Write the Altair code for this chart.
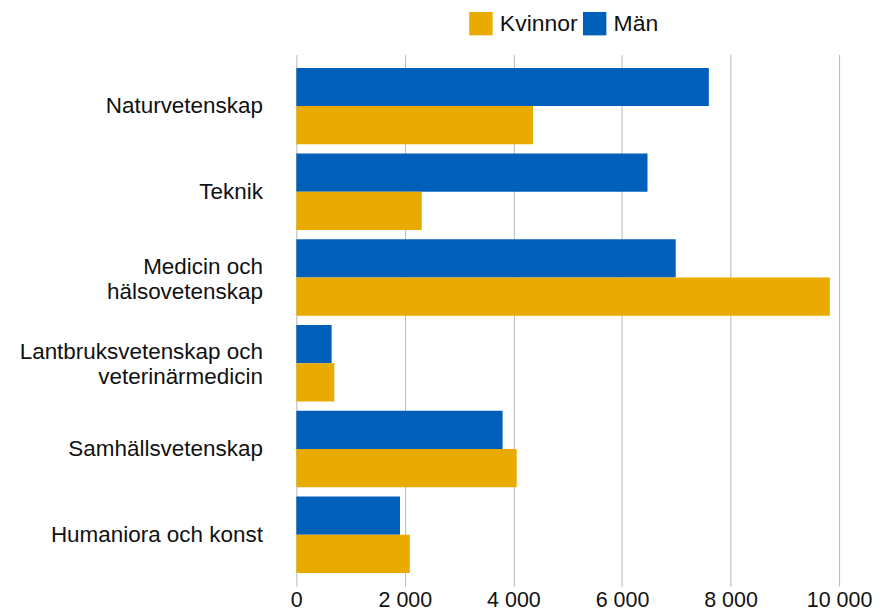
import altair as alt
import pandas as pd

categories = [
    "Naturvetenskap",
    "Teknik",
    "Medicin och\nhälsovetenskap",
    "Lantbruksvetenskap och\nveterinärmedicin",
    "Samhällsvetenskap",
    "Humaniora och konst",
]
man = [7600, 6470, 6990, 650, 3800, 1910]
kvinnor = [4360, 2310, 9830, 700, 4060, 2090]
series = ["Kvinnor", "Män"]
colors = ["#EAAB00", "#0060B9"]
x_ticks = [0, 2000, 4000, 6000, 8000, 10000]

rows = []
for c, m, k in zip(categories, man, kvinnor):
    rows.append({"omrade": c, "kon": "Män", "antal": m})
    rows.append({"omrade": c, "kon": "Kvinnor", "antal": k})
df = pd.DataFrame(rows)

FONT = "Liberation Sans"

chart = (
    alt.Chart(df)
    .mark_bar()
    .encode(
        y=alt.Y(
            "omrade:N",
            sort=categories,
            scale=alt.Scale(paddingInner=0.108, paddingOuter=0.155),
            axis=alt.Axis(
                title=None,
                ticks=False,
                domain=False,
                labelFontSize=22.5,
                labelFont=FONT,
                labelColor="#111111",
                labelPadding=34,
                labelLineHeight=25,
                labelAlign="right",
                labelBaseline="middle",
                labelLimit=400,
                labelOffset={
                    "condition": {"test": "indexof(datum.value, '\\n') >= 0", "value": -11},
                    "value": 0,
                },
                labelExpr="split(datum.label, '\\n')",
            ),
        ),
        yOffset=alt.YOffset(
            "kon:N",
            sort=["Män", "Kvinnor"],
            scale=alt.Scale(paddingInner=0, paddingOuter=0),
        ),
        x=alt.X(
            "antal:Q",
            scale=alt.Scale(domain=[0, 10000], nice=False),
            axis=alt.Axis(
                title=None,
                values=x_ticks,
                grid=True,
                gridColor="#b8b8b8",
                gridWidth=1,
                ticks=False,
                domain=False,
                labelFlush=False,
                labelFontSize=21.5,
                labelFont=FONT,
                labelColor="#111111",
                labelPadding=3,
                labelExpr="replace(format(datum.value, ','), ',', ' ')",
            ),
        ),
        color=alt.Color(
            "kon:N",
            scale=alt.Scale(domain=series, range=colors),
            legend=alt.Legend(
                title=None,
                orient="none",
                direction="horizontal",
                legendX=173,
                legendY=-43,
                symbolType="square",
                symbolSize=550,
                symbolStrokeWidth=0,
                symbolOpacity=1,
                labelFontSize=23,
                labelFont=FONT,
                labelColor="#111111",
                labelOffset=7,
                columnPadding=5,
            ),
        ),
    )
    .properties(
        width=544,
        height=533,
        autosize=alt.AutoSizeParams(type="none"),
        padding={"left": 289, "top": 46, "right": 40, "bottom": 27},
    )
    .configure_view(stroke=None)
)

chart.save("out.html", embed_options={"renderer": "svg", "actions": False})
